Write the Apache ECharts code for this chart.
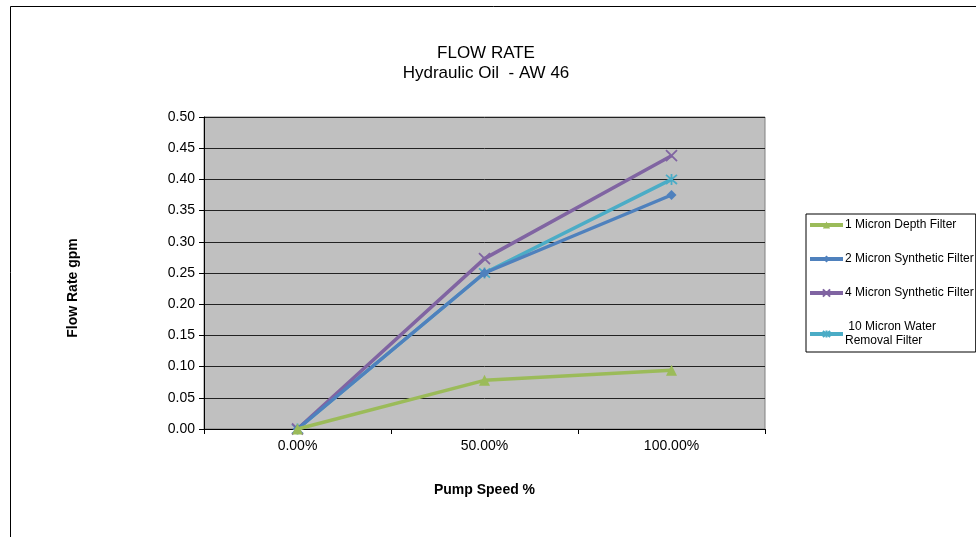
<!DOCTYPE html>
<html>
<head>
<meta charset="utf-8">
<script src="https://cdn.jsdelivr.net/npm/echarts@6/dist/echarts.min.js"></script>
<style>html,body{margin:0;padding:0;background:#fff}#c{width:976px;height:537px}</style>
</head>
<body>
<div id="c"></div>
<script>
const categories = ['0.00%', '50.00%', '100.00%'];
const seriesNames = ['1 Micron Depth Filter', '2 Micron Synthetic Filter', '4 Micron Synthetic Filter', ' 10 Micron Water\nRemoval Filter'];
const depth1 = [0.000, 0.078, 0.094];
const synth2 = [0.000, 0.250, 0.375];
const synth4 = [0.000, 0.273, 0.438];
const water10 = [0.000, 0.250, 0.400];
const yTicks = { min: 0, max: 0.5, interval: 0.05 };

const FONT = 'Liberation Sans, Arial, sans-serif';
const colors = ['#9bbb59', '#4f81bd', '#8064a2', '#4bacc6'];
const symbols = ['triangle', 'diamond', 'path://M0,0L10,10M10,0L0,10', 'path://M0,0L10,10M10,0L0,10M5,-1L5,11'];
const sizes = [11, 10, 11, 11];
const datasets = [depth1, synth2, synth4, water10];

const chart = echarts.init(document.getElementById('c'), null, { renderer: 'canvas' });
chart.setOption({
  animation: false,
  backgroundColor: '#fff',
  textStyle: { fontFamily: FONT },
  title: [
    { text: 'FLOW RATE', left: 481, top: 40, textAlign: 'center',
      textStyle: { fontSize: 17, fontWeight: 'normal', color: '#000', fontFamily: FONT } },
    { text: 'Hydraulic Oil  - AW 46', left: 481, top: 60, textAlign: 'center',
      textStyle: { fontSize: 17, fontWeight: 'normal', color: '#000', fontFamily: FONT } }
  ],
  graphic: [
    { type: 'rect', shape: { x: 10.5, y: 6.5, width: 1000, height: 600 },
      style: { fill: 'none', stroke: '#000', lineWidth: 1 }, silent: true, z: -1 }
  ],
  legend: {
    orient: 'vertical',
    left: 806, top: 214,
    padding: [4, 2, 4, 2],
    itemGap: 20,
    itemWidth: 33,
    itemHeight: 9,
    borderColor: '#000',
    borderWidth: 1,
    backgroundColor: '#fff',
    lineStyle: { width: 4 },
    textStyle: { fontSize: 12, color: '#000', fontFamily: FONT, padding: [0, 0, 0, -3], lineHeight: 14 },
    data: seriesNames
  },
  grid: { left: 204, right: 211, top: 117, bottom: 108, show: true,
    backgroundColor: '#c0c0c0', borderColor: '#808080', borderWidth: 1 },
  xAxis: {
    type: 'category',
    data: categories,
    boundaryGap: true,
    name: 'Pump Speed %',
    nameLocation: 'middle',
    nameGap: 54,
    nameTextStyle: { fontSize: 14, fontWeight: 'bold', color: '#000', fontFamily: FONT },
    axisLine: { lineStyle: { color: '#000', width: 1 } },
    axisTick: { show: true, interval: 0, length: 5, lineStyle: { color: '#000' } },
    axisLabel: { fontSize: 14, color: '#000', margin: 10, fontFamily: FONT },
    splitLine: { show: false }
  },
  yAxis: {
    type: 'value',
    min: yTicks.min, max: yTicks.max, interval: yTicks.interval,
    name: 'Flow Rate gpm',
    nameLocation: 'middle',
    nameGap: 124,
    nameRotate: 90,
    nameTextStyle: { fontSize: 14, fontWeight: 'bold', color: '#000', fontFamily: FONT, padding: [0, 30, 0, 0] },
    axisLine: { show: true, lineStyle: { color: '#000', width: 1 } },
    axisTick: { show: true, length: 5, lineStyle: { color: '#000' } },
    axisLabel: { fontSize: 14, color: '#000', margin: 9, fontFamily: FONT,
      formatter: v => v.toFixed(2) },
    splitLine: { show: true, lineStyle: { color: '#222', width: 1 } }
  },
  series: datasets.map((d, i) => ({
    name: seriesNames[i],
    type: 'line',
    data: d,
    symbol: symbols[i],
    symbolSize: sizes[i],
    showAllSymbol: true,
    lineStyle: { color: colors[i], width: 3.5 },
    itemStyle: { color: colors[i], borderColor: colors[i], borderWidth: i >= 2 ? 1.8 : 0 },
    z: 10 - i
  }))
});
</script>
</body>
</html>
